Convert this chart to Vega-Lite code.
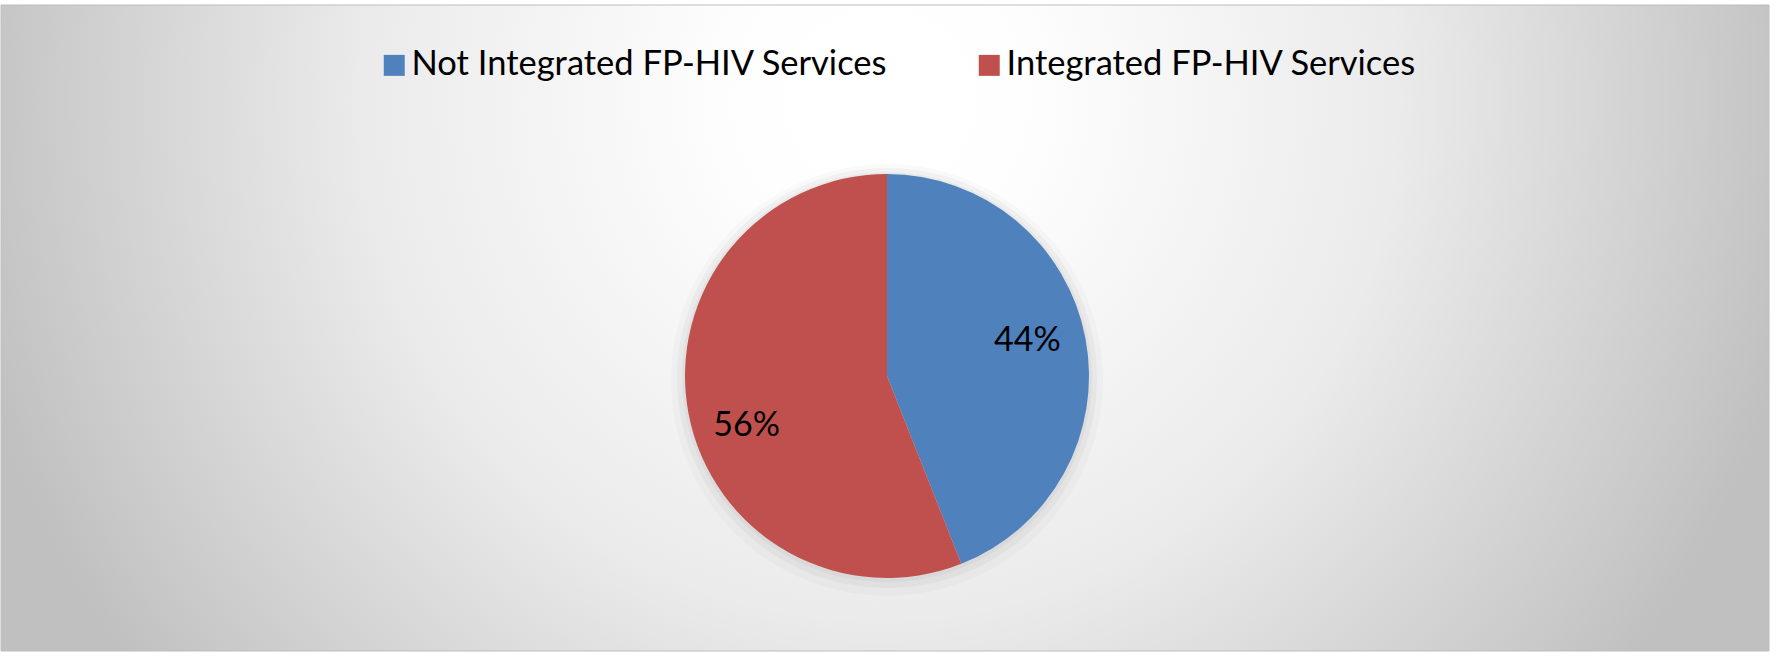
{
  "$schema": "https://vega.github.io/schema/vega-lite/v6.json",
  "width": 1776,
  "height": 660,
  "autosize": {"type": "fit", "contains": "padding"},
  "padding": {"left": 0, "top": 4, "right": 6, "bottom": 8},
  "background": "#ffffff",
  "config": {"view": {"stroke": null}},
  "data": {
    "values": [
      {"idx": 1, "service": "Not Integrated FP-HIV Services", "share": 0.44},
      {"idx": 2, "service": "Integrated FP-HIV Services", "share": 0.56}
    ]
  },
  "layer": [
    {
      "transform": [{"filter": "datum.idx == 1"}],
      "mark": {
        "type": "rect",
        "stroke": "#bdbdbd",
        "strokeWidth": 1,
        "fill": {
          "gradient": "radial",
          "x1": 0.497, "y1": 0.371, "r1": 0,
          "x2": 0.497, "y2": 0.371, "r2": 0.53,
          "stops": [
            {"offset": 0, "color": "#ffffff"},
            {"offset": 0.15, "color": "#fefefe"},
            {"offset": 0.55, "color": "#ebebeb"},
            {"offset": 0.92, "color": "#c8c8c8"},
            {"offset": 1, "color": "#c0c0c0"}
          ]
        }
      },
      "encoding": {}
    },
    {
      "transform": [{"filter": "datum.idx == 1"}],
      "mark": {"type": "arc", "theta": 0, "theta2": 6.2832, "outerRadius": 216, "xOffset": 2, "yOffset": 52, "fill": "#000000", "fillOpacity": 0.02},
      "encoding": {}
    },
    {
      "transform": [{"filter": "datum.idx == 1"}],
      "mark": {"type": "arc", "theta": 0, "theta2": 6.2832, "outerRadius": 210, "xOffset": 2, "yOffset": 50, "fill": "#000000", "fillOpacity": 0.03},
      "encoding": {}
    },
    {
      "transform": [{"filter": "datum.idx == 1"}],
      "mark": {"type": "arc", "theta": 0, "theta2": 6.2832, "outerRadius": 205, "xOffset": 2, "yOffset": 49, "fill": "#000000", "fillOpacity": 0.03},
      "encoding": {}
    },
    {
      "mark": {"type": "arc", "outerRadius": 202, "xOffset": 2, "yOffset": 48},
      "encoding": {
        "theta": {"field": "share", "type": "quantitative", "stack": true},
        "order": {"field": "idx", "type": "quantitative"},
        "color": {
          "field": "service",
          "type": "nominal",
          "scale": {
            "domain": ["Not Integrated FP-HIV Services", "Integrated FP-HIV Services"],
            "range": ["#4F81BD", "#C0504D"]
          },
          "legend": {
            "orient": "none",
            "legendX": 376,
            "legendY": 43,
            "direction": "horizontal",
            "title": null,
            "symbolType": "square",
            "symbolSize": 441,
            "symbolStrokeWidth": 0,
            "symbolOpacity": 1,
            "labelFont": "Lato",
            "labelFontSize": 34.5,
            "labelColor": "#000000",
            "labelOffset": 0,
            "labelLimit": 0,
            "columnPadding": 84,
            "padding": 0
          }
        }
      }
    },
    {
      "transform": [{"filter": "datum.idx == 1"}],
      "mark": {"type": "text", "radius": 143, "xOffset": 2, "yOffset": 40, "font": "Lato", "fontSize": 34, "color": "#000000"},
      "encoding": {
        "theta": {"datum": 0.22, "type": "quantitative", "scale": {"domain": [0, 1]}},
        "text": {"field": "share", "type": "quantitative", "format": ".0%"}
      }
    },
    {
      "transform": [{"filter": "datum.idx == 2"}],
      "mark": {"type": "text", "radius": 143, "xOffset": 2, "yOffset": 71, "font": "Lato", "fontSize": 34, "color": "#000000"},
      "encoding": {
        "theta": {"datum": 0.72, "type": "quantitative", "scale": {"domain": [0, 1]}},
        "text": {"field": "share", "type": "quantitative", "format": ".0%"}
      }
    }
  ]
}
